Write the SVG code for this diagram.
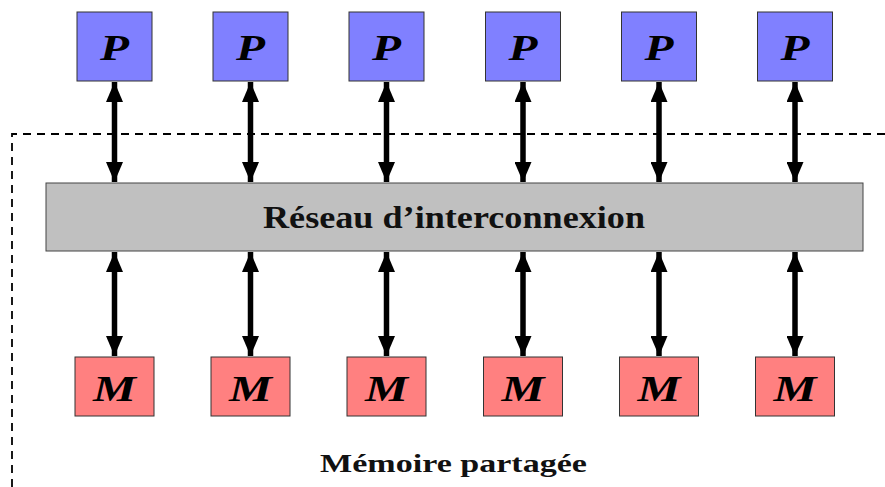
<svg xmlns="http://www.w3.org/2000/svg" width="885" height="487" viewBox="0 0 885 487">
<style>
.p{fill:#8080ff;stroke:#333;stroke-width:1}
.m{fill:#ff8080;stroke:#333;stroke-width:1}
.net{fill:#c0c0c0;stroke:#444;stroke-width:1}
.lbl{font-family:"Liberation Serif","DejaVu Serif",serif;font-weight:bold;font-style:italic;fill:#000;text-anchor:middle}
.t{font-family:"Liberation Serif","DejaVu Serif",serif;font-weight:bold;fill:#111;text-anchor:middle}
.dash{fill:none;stroke:#000;stroke-width:1.8;stroke-dasharray:8 6}
.arr{fill:none;stroke:#000;stroke-width:5.5;marker-start:url(#ah);marker-end:url(#ah)}
</style>
<defs>
<marker id="ah" viewBox="0 0 20 17" refX="20" refY="8.5" markerWidth="20" markerHeight="17" markerUnits="userSpaceOnUse" orient="auto-start-reverse">
<path d="M0,0 L20,8.5 L0,17 Z" fill="#000"/>
</marker>
</defs>
<g id="shared-memory-boundary">
<path class="dash" d="M885,134 H12 V487"/>
<text class="t" x="453.5" y="472" font-size="25" textLength="267" lengthAdjust="spacingAndGlyphs">Mémoire partagée</text>
</g>
<g id="network">
<rect class="net" x="46" y="183" width="817" height="68"/>
<text class="t" x="454" y="228" font-size="31" textLength="382" lengthAdjust="spacingAndGlyphs">Réseau d’interconnexion</text>
</g>
<g id="P1"><rect class="p" x="77" y="12" width="75" height="69"/><text class="lbl" x="114.5" y="60" font-size="36" textLength="29" lengthAdjust="spacingAndGlyphs">P</text></g>
<g id="P2"><rect class="p" x="213" y="12" width="75" height="69"/><text class="lbl" x="250.5" y="60" font-size="36" textLength="29" lengthAdjust="spacingAndGlyphs">P</text></g>
<g id="P3"><rect class="p" x="349" y="12" width="75" height="69"/><text class="lbl" x="386.5" y="60" font-size="36" textLength="29" lengthAdjust="spacingAndGlyphs">P</text></g>
<g id="P4"><rect class="p" x="485.5" y="12" width="75" height="69"/><text class="lbl" x="523" y="60" font-size="36" textLength="29" lengthAdjust="spacingAndGlyphs">P</text></g>
<g id="P5"><rect class="p" x="621.5" y="12" width="75" height="69"/><text class="lbl" x="659" y="60" font-size="36" textLength="29" lengthAdjust="spacingAndGlyphs">P</text></g>
<g id="P6"><rect class="p" x="757.5" y="12" width="75" height="69"/><text class="lbl" x="795" y="60" font-size="36" textLength="29" lengthAdjust="spacingAndGlyphs">P</text></g>
<g id="M1"><rect class="m" x="75" y="357" width="79" height="59"/><text class="lbl" x="114.5" y="401" font-size="36" textLength="43" lengthAdjust="spacingAndGlyphs">M</text></g>
<g id="M2"><rect class="m" x="211" y="357" width="79" height="59"/><text class="lbl" x="250.5" y="401" font-size="36" textLength="43" lengthAdjust="spacingAndGlyphs">M</text></g>
<g id="M3"><rect class="m" x="347" y="357" width="79" height="59"/><text class="lbl" x="386.5" y="401" font-size="36" textLength="43" lengthAdjust="spacingAndGlyphs">M</text></g>
<g id="M4"><rect class="m" x="483.5" y="357" width="79" height="59"/><text class="lbl" x="523" y="401" font-size="36" textLength="43" lengthAdjust="spacingAndGlyphs">M</text></g>
<g id="M5"><rect class="m" x="619.5" y="357" width="79" height="59"/><text class="lbl" x="659" y="401" font-size="36" textLength="43" lengthAdjust="spacingAndGlyphs">M</text></g>
<g id="M6"><rect class="m" x="755.5" y="357" width="79" height="59"/><text class="lbl" x="795" y="401" font-size="36" textLength="43" lengthAdjust="spacingAndGlyphs">M</text></g>
<g id="connectors">
<path class="arr" d="M114.5,82 V182"/>
<path class="arr" d="M250.5,82 V182"/>
<path class="arr" d="M386.5,82 V182"/>
<path class="arr" d="M523,82 V182"/>
<path class="arr" d="M659,82 V182"/>
<path class="arr" d="M795,82 V182"/>
<path class="arr" d="M114.5,252 V356"/>
<path class="arr" d="M250.5,252 V356"/>
<path class="arr" d="M386.5,252 V356"/>
<path class="arr" d="M523,252 V356"/>
<path class="arr" d="M659,252 V356"/>
<path class="arr" d="M795,252 V356"/>
</g>
</svg>
